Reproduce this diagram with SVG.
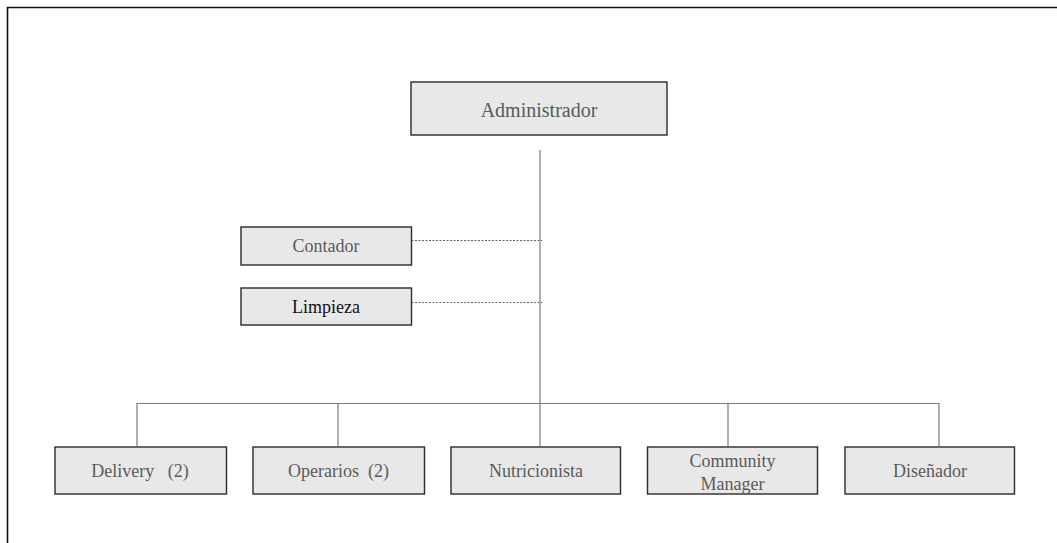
<svg xmlns="http://www.w3.org/2000/svg" width="1057" height="543" viewBox="0 0 1057 543">
<style>
.box{fill:#e8e8e8;stroke:#2b2b2b;stroke-width:1.4}
.t{font-family:"Liberation Serif","Times New Roman",serif;font-size:18px;fill:#5a5a5a;text-anchor:middle;white-space:pre}
.line{stroke:#7a7a7a;stroke-width:1.2;fill:none}
.dash{stroke:#555;stroke-width:0.9;stroke-dasharray:2 1.5;fill:none}
</style>
<rect width="1057" height="543" fill="#fff"/>
<path d="M7.5 543V7.5H1057" fill="none" stroke="#111" stroke-width="1.6"/>
<g id="connectors">
<path class="line" d="M540 150V446"/>
<path class="line" d="M137 446V403.5H939V446M338 403.5V446M728 403.5V446"/>
<path class="dash" d="M411.5 240.5H542M411.5 302.5H542"/>
</g>
<g id="administrador"><rect class="box" x="411" y="82" width="256" height="53"/><text class="t" x="539" y="117" style="font-size:20px">Administrador</text></g>
<g id="contador"><rect class="box" x="241" y="227" width="170.5" height="38"/><text class="t" x="326" y="252">Contador</text></g>
<g id="limpieza"><rect class="box" x="241" y="288" width="170.5" height="37"/><text class="t" x="326" y="313" style="fill:#111">Limpieza</text></g>
<g id="delivery"><rect class="box" x="55" y="447" width="171.5" height="47"/><text class="t" x="140" y="477">Delivery   (2)</text></g>
<g id="operarios"><rect class="box" x="253" y="447" width="171.5" height="47"/><text class="t" x="338.5" y="477">Operarios  (2)</text></g>
<g id="nutricionista"><rect class="box" x="451" y="447" width="169.5" height="47"/><text class="t" x="536" y="477">Nutricionista</text></g>
<g id="community"><rect class="box" x="647.5" y="447" width="170" height="47"/><text class="t" x="732.5" y="467">Community</text><text class="t" x="732.5" y="490">Manager</text></g>
<g id="disenador"><rect class="box" x="845" y="447" width="169.5" height="47"/><text class="t" x="930" y="477">Diseñador</text></g>
</svg>
